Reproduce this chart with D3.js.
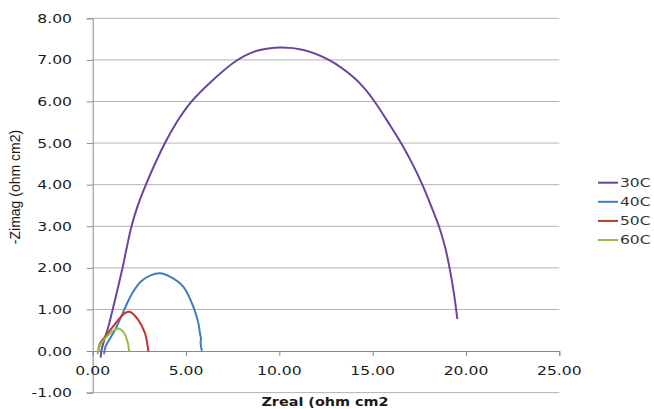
<!DOCTYPE html>
<html><head><meta charset="utf-8">
<script src="https://cdn.jsdelivr.net/npm/d3@7"></script>
<style>body{margin:0;background:#fff}svg{display:block}</style>
</head><body>
<svg id="c" width="654" height="409"></svg>
<script>
const seriesNames = ["30C", "40C", "50C", "60C"];
const seriesColors = ["#6B449E", "#3F7BC4", "#C0352F", "#8FBE45"];
const xTicks = [0, 5, 10, 15, 20, 25];
const yTicks = [-1, 0, 1, 2, 3, 4, 5, 6, 7, 8];
// [Zreal, -Zimag]
const s30 = [[0.43,-0.14],[0.47,0.02],[0.62,0.26],[0.86,0.62],[1.07,1.0],[1.34,1.5],[1.60,2.0],[1.83,2.5],[2.08,3.0],[2.42,3.5],[2.85,4.0],[3.87,5.0],[4.50,5.5],[5.30,6.0],[6.40,6.5],[7.70,6.98],[8.80,7.22],[10.1,7.30],[11.3,7.24],[12.7,6.99],[13.96,6.59],[14.55,6.32],[15.1,6.0],[15.9,5.45],[16.52,5.0],[17.13,4.5],[17.66,4.0],[18.12,3.5],[18.55,3.0],[18.88,2.5],[19.12,2.0],[19.35,1.4],[19.53,0.79]];
const s40 = [[0.61,-0.06],[0.68,0.10],[0.90,0.28],[1.15,0.47],[1.40,0.70],[1.65,0.95],[1.92,1.22],[2.2,1.45],[2.6,1.68],[3.1,1.82],[3.6,1.87],[4.14,1.79],[4.85,1.55],[5.39,1.07],[5.66,0.67],[5.75,0.42],[5.80,0.30],[5.78,0.20],[5.84,0.02]];
const s50 = [[0.30,0.02],[0.39,0.18],[0.66,0.34],[1.02,0.55],[1.37,0.75],[1.73,0.91],[2.0,0.94],[2.44,0.75],[2.80,0.43],[2.95,0.10],[2.98,0.0]];
const s60 = [[0.27,-0.06],[0.39,0.14],[0.66,0.30],[1.02,0.46],[1.37,0.54],[1.64,0.46],[1.87,0.22],[1.95,0.0]];
const allSeries = [s30, s40, s50, s60];

const svg = d3.select("#c");
const SX = 1.25;
const x = d3.scaleLinear().domain([0, 25]).range([92.7, 559.3]);
const y = d3.scaleLinear().domain([-1, 8]).range([392.6, 18.3]);
const fmt = v => d3.format(".2f")(v).replace("\u2212", "-");

function txt(g, px, py, s, opts) {
  const t = g.append("text")
    .attr("transform", `translate(${px},${py}) scale(${opts.sx||1},1)`)
    .attr("text-anchor", opts.anchor || "start")
    .attr("font-family", opts.family || "DejaVu Sans, Verdana, sans-serif")
    .attr("font-size", opts.size || 12.5)
    .attr("font-weight", opts.weight || "normal")
    .attr("fill", opts.fill || "#1a1a1a")
    .text(s);
  if (opts.dy) t.attr("dy", opts.dy);
  return t;
}

// gridlines
svg.append("g").selectAll("line").data(yTicks.filter(d => d !== 0)).join("line")
  .attr("x1", x(0)).attr("x2", x(25))
  .attr("y1", d => y(d)).attr("y2", d => y(d))
  .attr("stroke", "#b3b3b3").attr("stroke-width", 1);

// y axis
const yAxis = svg.append("g").attr("transform", `translate(${x(0)},0)`)
  .call(d3.axisLeft(y).tickValues(yTicks).tickSize(6).tickFormat(""));
yAxis.select(".domain").attr("stroke", "#8a8a8a");
yAxis.selectAll(".tick line").attr("stroke", "#8a8a8a");

// x axis at y=0
const xAxis = svg.append("g").attr("transform", `translate(0,${y(0)})`)
  .call(d3.axisBottom(x).tickValues(xTicks).tickSize(5).tickFormat(""));
xAxis.select(".domain").attr("stroke", "#8a8a8a");
xAxis.selectAll(".tick line").attr("stroke", "#8a8a8a");

// tick labels
const lab = svg.append("g");
yTicks.forEach(v => txt(lab, 72, y(v), fmt(v), {anchor: "end", sx: SX, dy: "0.36em"}));
xTicks.forEach(v => txt(lab, x(v), 374.5, fmt(v), {anchor: "middle", sx: SX}));

// axis titles
svg.append("text")
  .attr("transform", `translate(20,187) rotate(-90)`)
  .attr("text-anchor", "middle")
  .attr("font-family", "Liberation Sans, Arial, sans-serif")
  .attr("font-size", 14)
  .attr("fill", "#1a1a1a")
  .text("-Zimag (ohm cm2)");
txt(svg, 325, 405.5, "Zreal (ohm cm2", {anchor: "middle", sx: 1.2, size: 12, weight: "bold"});

// series
const line = d3.line().x(d => x(d[0])).y(d => y(d[1])).curve(d3.curveCatmullRom.alpha(0.5));
svg.append("g").selectAll("path").data(allSeries).join("path")
  .attr("d", line)
  .attr("fill", "none")
  .attr("stroke", (d, i) => seriesColors[i])
  .attr("stroke-width", 2)
  .attr("stroke-linejoin", "round").attr("stroke-linecap", "round");

// legend
const leg = svg.append("g");
seriesNames.forEach((n, i) => {
  const ly = 182.7 + i * 19.1;
  leg.append("line").attr("x1", 598).attr("x2", 618).attr("y1", ly).attr("y2", ly)
    .attr("stroke", seriesColors[i]).attr("stroke-width", 2);
  txt(leg, 620, ly, n, {sx: 1.35, size: 11.5, dy: "0.36em", fill: "#333"});
});
</script>
</body></html>
